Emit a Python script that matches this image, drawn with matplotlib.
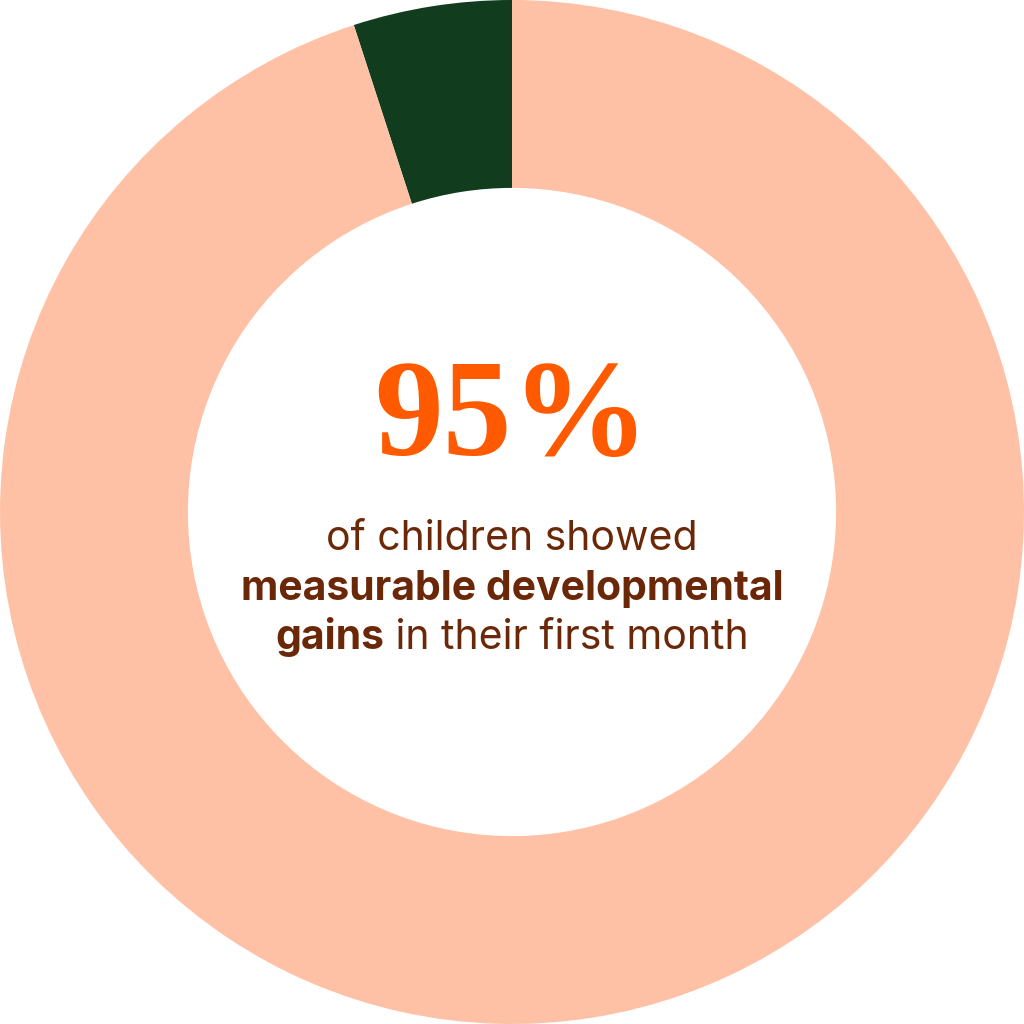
import matplotlib
matplotlib.use("Agg")
import matplotlib.pyplot as plt

labels = ["Not yet", "Gains"]
values = [5, 95]
colors = ["#113D1E", "#FFC1A6"]
headline = "95%"
line1 = "of children showed"
line2 = "measurable developmental"
line3_bold = "gains"
line3_rest = " in their first month"

W = H = 1024
fig = plt.figure(figsize=(10.24, 10.24), dpi=100)
ax = fig.add_axes([0, 0, 1, 1])
ax.pie(values, colors=colors, startangle=90, counterclock=True, radius=1.0,
       wedgeprops=dict(width=0.367, edgecolor="none", linewidth=0))
ax.set_xlim(-1, 1)
ax.set_ylim(-1, 1)
ax.set_aspect("equal")
ax.axis("off")

orange = "#FF5A00"
brown = "#6B2808"
fs = 29.5

def fy(py):
    return 1 - py / H

fig.text(0.5, fy(455), headline, ha="center", va="baseline", fontsize=99,
         fontweight="bold", family="Liberation Serif", color=orange)
fig.text(0.5, fy(550), line1, ha="center", va="baseline", fontsize=fs,
         family="Inter", color=brown)
fig.text(0.5, fy(600), line2, ha="center", va="baseline", fontsize=fs,
         family="Inter", fontweight="bold", color=brown)

renderer = fig.canvas.get_renderer()
tb = fig.text(0, fy(649), line3_bold, ha="left", va="baseline", fontsize=fs,
              family="Inter", fontweight="bold", color=brown)
tr = fig.text(0, fy(649), line3_rest, ha="left", va="baseline", fontsize=fs,
              family="Inter", color=brown)
wb = tb.get_window_extent(renderer).width
wr = tr.get_window_extent(renderer).width
x0 = (W - (wb + wr)) / 2
tb.set_x(x0 / W)
tr.set_x((x0 + wb) / W)

fig.savefig("out.png", dpi=100, facecolor="white")
